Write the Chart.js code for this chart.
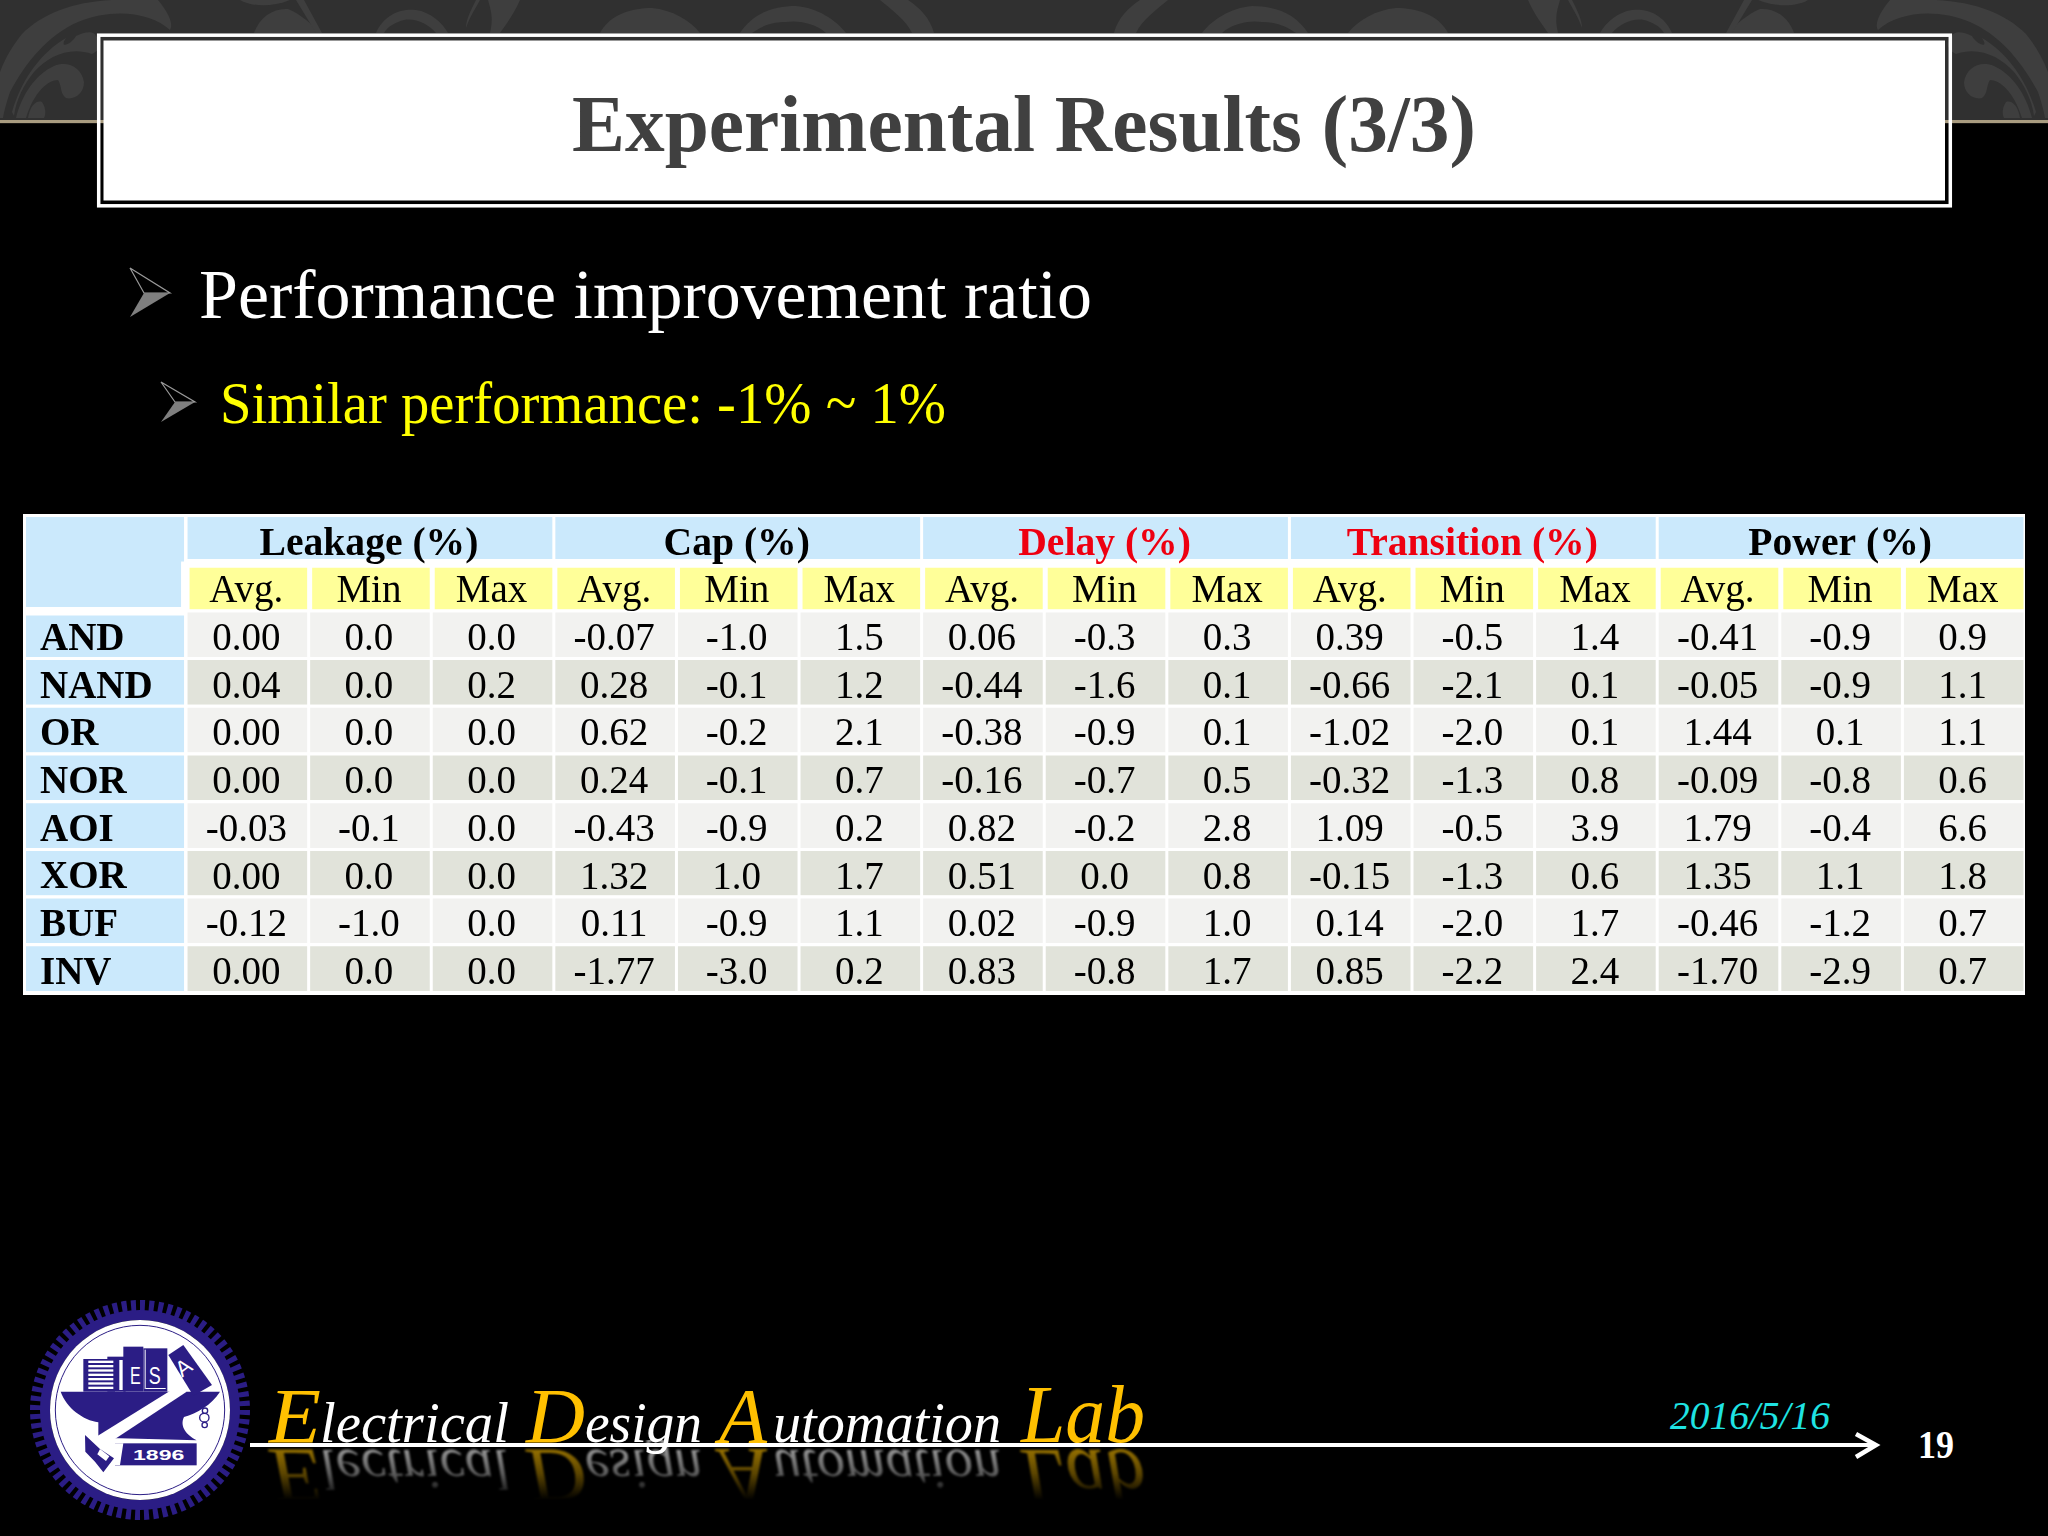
<!DOCTYPE html>
<html lang="en">
<head>
    <meta charset="UTF-8">
    <title>Experimental Results (3/3)</title>
    <script src="https://cdn.jsdelivr.net/npm/chart.js"></script>
    <style>
        body { margin: 0; background-color: #000; width: 2048px; height: 1536px; overflow: hidden; position: relative; }
        svg { position: absolute; left: 0; top: 0; }
        #tableChart { position: absolute; left: 23px; top: 514px; }
        text { font-family: "Liberation Serif", serif; }
    </style>
</head>
<body>

<svg width="2048" height="1536" viewBox="0 0 2048 1536">
    <defs>
        <g id="plume" fill="#3e3e3e">
            <path d="M26 0 L22 34 C42 14 72 2 112 0 L158 0 C168 12 174 24 170 30 C150 12 112 8 78 22 C48 35 26 62 10 92 C6 104 4 112 3 118 L0 118 L0 72 C6 56 14 44 22 34 Z"/>
            <path d="M12 112 C22 78 42 52 66 38 C58 50 72 44 76 36 C84 32 94 30 96 36 C104 44 100 50 92 54 C70 46 48 56 34 72 C24 84 16 100 14 116 Z"/>
            <path d="M16 118 C22 94 36 74 54 66 C68 60 82 68 84 82 C84 94 74 100 66 98 C60 94 62 86 58 80 C48 80 34 92 26 118 Z"/>
            <path d="M28 118 C30 106 36 100 42 102 C46 108 46 114 44 118 Z"/>
            <path d="M240 0 C250 6 270 8 290 0 Z"/>
            <path d="M254 33 C260 16 274 8 288 9 C300 14 312 24 320 33 Z"/>
            <path d="M296 0 L304 0 L322 33 L316 33 Z"/>
            <path d="M376 33 C384 14 402 8 416 10 C430 12 442 22 448 33 L436 33 C428 24 416 18 404 20 C396 22 388 26 384 33 Z"/>
            <path d="M466 28 C470 16 476 8 480 0 L476 0 C470 12 466 20 466 28 Z"/>
            <path d="M490 33 C494 16 490 8 488 0 L520 0 C514 14 506 24 500 33 Z"/>
            <path d="M600 33 C610 14 632 8 652 8 C672 10 690 20 700 33 Z"/>
            <path d="M740 33 C752 14 772 6 796 6 C818 8 836 20 846 33 L826 33 C816 24 800 20 786 22 C768 22 760 28 752 33 Z"/>
            <path d="M880 0 C892 10 906 20 912 33 L934 33 C930 18 920 8 908 0 Z"/>
        </g>
        <linearGradient id="fade" gradientUnits="userSpaceOnUse" x1="0" y1="1447" x2="0" y2="1500">
            <stop offset="0" stop-color="#fff" stop-opacity="0.6"/>
            <stop offset="0.5" stop-color="#fff" stop-opacity="0.36"/>
            <stop offset="1" stop-color="#fff" stop-opacity="0"/>
        </linearGradient>
        <mask id="fadeMask" maskUnits="userSpaceOnUse" x="250" y="1440" width="920" height="70">
            <rect x="250" y="1440" width="920" height="70" fill="url(#fade)"/>
        </mask>
        <filter id="soft"><feGaussianBlur stdDeviation="1"/></filter>
        <g id="wordmark" font-style="italic">
            <g fill="#ffc000" font-size="79">
                <text x="269" y="1442" textLength="52" lengthAdjust="spacingAndGlyphs">E</text>
                <text x="526" y="1442" textLength="59" lengthAdjust="spacingAndGlyphs">D</text>
                <text x="719" y="1442" textLength="48" lengthAdjust="spacingAndGlyphs">A</text>
                <text x="1021" y="1442" textLength="124" lengthAdjust="spacingAndGlyphs" font-size="82">Lab</text>
            </g>
            <g fill="#fff" font-size="58">
                <text x="320" y="1442" textLength="189" lengthAdjust="spacingAndGlyphs">lectrical</text>
                <text x="585" y="1442" textLength="117" lengthAdjust="spacingAndGlyphs">esign</text>
                <text x="773" y="1442" textLength="228" lengthAdjust="spacingAndGlyphs">utomation</text>
            </g>
        </g>
    </defs>

    <!-- top band -->
    <rect x="0" y="0" width="2048" height="120" fill="#303030"/>
    <use href="#plume"/>
    <use href="#plume" transform="translate(2048,0) scale(-1,1)"/>
    <rect x="0" y="120" width="2048" height="3.4" fill="#a99c80"/>
    <rect x="0" y="123.4" width="2048" height="90" fill="#000"/>

    <!-- title box -->
    <rect x="98.7" y="35.2" width="1851.6" height="170.6" fill="none" stroke="#fff" stroke-width="3.5"/>
    <rect x="103.5" y="40.5" width="1841.5" height="160" fill="#fff"/>
    <text x="572" y="151" font-size="80" font-weight="bold" fill="#404040" textLength="904" lengthAdjust="spacingAndGlyphs">Experimental Results (3/3)</text>

    <!-- bullets -->
    <polygon points="130,268 170,293 144,293" fill="#000" stroke="#9a9a9a" stroke-width="1.2"/>
    <polygon points="130,317 170,293 144,293" fill="#7f7f7f"/>
    <text x="199" y="318" font-size="70" fill="#fff" textLength="893" lengthAdjust="spacingAndGlyphs">Performance improvement ratio</text>
    <polygon points="161,382 195,402 175,402" fill="#000" stroke="#9a9a9a" stroke-width="1.2"/>
    <polygon points="161,422 195,402 175,402" fill="#7f7f7f"/>
    <text x="220" y="423" font-size="60" fill="#ffff00" textLength="726" lengthAdjust="spacingAndGlyphs">Similar performance: -1% ~ 1%</text>

    <!-- footer -->
    <use href="#wordmark"/>
    <g mask="url(#fadeMask)" filter="url(#soft)">
        <use href="#wordmark" transform="translate(0,2892) scale(1,-1)"/>
    </g>
    <rect x="250" y="1443" width="1626" height="4" fill="#fff"/>
    <polyline points="1856,1434 1876,1445 1856,1457" fill="none" stroke="#fff" stroke-width="4.5"/>
    <text x="1670" y="1429" font-size="39" font-style="italic" fill="#1fe3e3" textLength="160" lengthAdjust="spacingAndGlyphs">2016/5/16</text>
    <text x="1918" y="1458" font-size="39" font-weight="bold" fill="#fff" textLength="36" lengthAdjust="spacingAndGlyphs">19</text>

    <!-- logo, drawn in zoom coordinates -->
    <g transform="translate(20,1295) scale(0.33333)" fill="#2b1d85">
        <circle cx="360" cy="345" r="312" fill="none" stroke="#2b1d85" stroke-width="36" stroke-dasharray="15 12.2"/>
        <circle cx="360" cy="345" r="285" fill="none" stroke="#2b1d85" stroke-width="30"/>
        <circle cx="360" cy="345" r="270" fill="#fff"/>
        <circle cx="360" cy="345" r="254" fill="none" stroke="#2b1d85" stroke-width="3"/>
        <path d="M122 290 L600 290 C575 330 530 355 492 366 C478 395 500 420 530 436 L300 430 L235 430 L235 382 C190 375 140 340 122 290 Z"/>
        <rect x="285" y="445" width="245" height="66"/>
        <rect x="190" y="192" width="95" height="98"/>
        <rect x="262" y="185" width="55" height="105"/>
        <rect x="310" y="155" width="60" height="135"/>
        <rect x="370" y="160" width="72" height="130"/>
        <polygon points="445,180 490,150 576,270 520,302"/>
        <g fill="#fff">
            <rect x="205" y="197" width="75" height="7"/>
            <rect x="205" y="210" width="75" height="7"/>
            <rect x="205" y="223" width="75" height="7"/>
            <rect x="205" y="236" width="75" height="7"/>
            <rect x="205" y="249" width="75" height="7"/>
            <rect x="205" y="262" width="75" height="7"/>
            <rect x="205" y="275" width="75" height="7"/>
            <rect x="298" y="195" width="10" height="90"/>
            <rect x="374" y="164" width="3" height="118"/>
            <rect x="377" y="279" width="60" height="3"/>
            <polygon points="475,272 500,290 245,458 218,432"/>
            <polygon points="285,445 310,445 300,510 250,510"/>
        </g>
        <polygon points="195,420 240,462 282,490 250,532 225,500 196,470"/>
        <polygon points="240,462 268,484 258,498 232,478" fill="#fff"/>
        <polygon points="198,480 222,504 206,505" fill="#fff"/>
        <g fill="none" stroke="#2b1d85" stroke-width="4">
            <circle cx="555" cy="347" r="8"/>
            <ellipse cx="553" cy="368" rx="14" ry="13"/>
            <circle cx="554" cy="390" r="8"/>
        </g>
        <g fill="#fff">
            <text x="330" y="266" font-size="72" style="font-family:'Liberation Sans'" textLength="32" lengthAdjust="spacingAndGlyphs">E</text>
            <text x="386" y="266" font-size="72" style="font-family:'Liberation Sans'" textLength="36" lengthAdjust="spacingAndGlyphs">S</text>
            <text x="0" y="0" font-size="66" transform="translate(486,248) rotate(-36)" style="font-family:'Liberation Sans'">A</text>
            <text x="339" y="495" font-size="46" font-weight="bold" style="font-family:'Liberation Sans'" textLength="154" lengthAdjust="spacingAndGlyphs">1896</text>
        </g>
    </g>
</svg>

<canvas id="tableChart" width="2002" height="481"></canvas>

<script>
    const gateNames = ['AND', 'NAND', 'OR', 'NOR', 'AOI', 'XOR', 'BUF', 'INV'];
    const groupNames = ['Leakage (%)', 'Cap (%)', 'Delay (%)', 'Transition (%)', 'Power (%)'];
    const statNames = ['Avg.', 'Min', 'Max'];

    const leakageAvg = [0.00, 0.04, 0.00, 0.00, -0.03, 0.00, -0.12, 0.00];
    const leakageMin = [0.0, 0.0, 0.0, 0.0, -0.1, 0.0, -1.0, 0.0];
    const leakageMax = [0.0, 0.2, 0.0, 0.0, 0.0, 0.0, 0.0, 0.0];
    const capAvg = [-0.07, 0.28, 0.62, 0.24, -0.43, 1.32, 0.11, -1.77];
    const capMin = [-1.0, -0.1, -0.2, -0.1, -0.9, 1.0, -0.9, -3.0];
    const capMax = [1.5, 1.2, 2.1, 0.7, 0.2, 1.7, 1.1, 0.2];
    const delayAvg = [0.06, -0.44, -0.38, -0.16, 0.82, 0.51, 0.02, 0.83];
    const delayMin = [-0.3, -1.6, -0.9, -0.7, -0.2, 0.0, -0.9, -0.8];
    const delayMax = [0.3, 0.1, 0.1, 0.5, 2.8, 0.8, 1.0, 1.7];
    const transitionAvg = [0.39, -0.66, -1.02, -0.32, 1.09, -0.15, 0.14, 0.85];
    const transitionMin = [-0.5, -2.1, -2.0, -1.3, -0.5, -1.3, -2.0, -2.2];
    const transitionMax = [1.4, 0.1, 0.1, 0.8, 3.9, 0.6, 1.7, 2.4];
    const powerAvg = [-0.41, -0.05, 1.44, -0.09, 1.79, 1.35, -0.46, -1.70];
    const powerMin = [-0.9, -0.9, 0.1, -0.8, -0.4, 1.1, -1.2, -2.9];
    const powerMax = [0.9, 1.1, 1.1, 0.6, 6.6, 1.8, 0.7, 0.7];

    const columns = [
        leakageAvg, leakageMin, leakageMax,
        capAvg, capMin, capMax,
        delayAvg, delayMin, delayMax,
        transitionAvg, transitionMin, transitionMax,
        powerAvg, powerMin, powerMax
    ];

    const BLUE = '#cbe9fc';
    const YELLOW = '#ffff99';
    const ROW_LIGHT = '#f2f2f0';
    const ROW_DARK = '#e1e3da';
    const RED = '#ee0011';
    const labelColumns = 1.33; // first column width, in data column units

    // one band per row: group header, stat header, then the gates
    const rowLabels = ['', ''].concat(gateNames);

    function emptyRows() {
        return rowLabels.map(() => null);
    }

    function rowBorder(row) {
        if (row === 0) return { top: 3, bottom: 2.7, left: 1.5, right: 1.5 };
        if (row === 1) return { top: 6, bottom: 0, left: 3.5, right: 1.5 };
        return { top: 3, bottom: 0, left: 1.5, right: 1.5 };
    }

    const datasets = [];

    // first column
    datasets.push({
        data: rowLabels.map(() => [-labelColumns, 0]),
        backgroundColor: BLUE,
        borderWidth: ctx => {
            if (ctx.dataIndex === 0) return { top: 3, left: 3, right: 2, bottom: 0 };
            if (ctx.dataIndex === 1) return { top: 0, left: 3, right: 5, bottom: 2.4 };
            return { top: ctx.dataIndex === 2 ? 6 : 3, left: 3, right: 2, bottom: 0 };
        },
        cellTexts: [],
        textFont: '',
        textColor: []
    });

    // group headers
    groupNames.forEach((name, g) => {
        const data = emptyRows();
        data[0] = [g * 3, g * 3 + 3];
        datasets.push({
            data: data,
            backgroundColor: BLUE,
            borderWidth: ctx => rowBorder(ctx.dataIndex),
            cellTexts: [name],
            textFont: 'bold 40px "Liberation Serif"',
            textScale: 0.99,
            textColor: name.startsWith('Delay') || name.startsWith('Transition') ? RED : '#000'
        });
    });

    // stat header and values, one dataset per column
    columns.forEach((values, c) => {
        const data = emptyRows();
        const texts = [null, statNames[c % 3]];
        rowLabels.forEach((_, r) => {
            if (r > 0) data[r] = [c, c + 1];
        });
        values.forEach(v => texts.push(v.toFixed(c % 3 === 0 ? 2 : 1)));
        datasets.push({
            data: data,
            backgroundColor: rowLabels.map((_, r) => r === 1 ? YELLOW : (r % 2 === 0 ? ROW_LIGHT : ROW_DARK)),
            borderWidth: ctx => rowBorder(ctx.dataIndex),
            cellTexts: texts,
            textFont: '40px "Liberation Serif"',
            textScale: 0.975,
            textColor: '#000'
        });
    });

    datasets.forEach(d => {
        d.grouped = false;
        d.barPercentage = 1;
        d.categoryPercentage = 1;
        d.borderColor = '#fff';
        d.borderSkipped = false;
        d.inflateAmount = 0;
    });

    const whiteBackground = {
        id: 'whiteBackground',
        beforeDraw(chart) {
            const ctx = chart.ctx;
            ctx.save();
            ctx.fillStyle = '#fff';
            ctx.fillRect(0, 0, chart.width, chart.height);
            ctx.restore();
        }
    };

    const cellText = {
        id: 'cellText',
        afterDatasetsDraw(chart) {
            const ctx = chart.ctx;
            ctx.save();

            // the empty corner is one block, hide the seam between its two bands
            const seam = chart.scales.y.getPixelForValue(0.5);
            const cornerRight = chart.scales.x.getPixelForValue(0);
            ctx.fillStyle = BLUE;
            ctx.fillRect(3, seam - 1.5, cornerRight - 8, 3);

            ctx.textAlign = 'center';
            ctx.textBaseline = 'alphabetic';
            chart.data.datasets.forEach((d, i) => {
                chart.getDatasetMeta(i).data.forEach((bar, r) => {
                    const text = d.cellTexts[r];
                    if (!text) return;
                    ctx.save();
                    ctx.translate((bar.x + bar.base) / 2 - 1, bar.y + 16.8);
                    ctx.scale(d.textScale, 1);
                    ctx.font = d.textFont;
                    ctx.fillStyle = d.textColor;
                    ctx.fillText(text, 0, 0);
                    ctx.restore();
                });
            });
            ctx.restore();
        }
    };

    new Chart(document.getElementById('tableChart'), {
        type: 'bar',
        data: { labels: rowLabels, datasets: datasets },
        plugins: [whiteBackground, cellText],
        options: {
            indexAxis: 'y',
            responsive: false,
            animation: false,
            devicePixelRatio: 1,
            layout: { padding: { bottom: 4 } },
            plugins: { legend: { display: false }, tooltip: { enabled: false } },
            scales: {
                x: { type: 'linear', display: false, min: -labelColumns, max: columns.length },
                y: {
                    type: 'category',
                    border: { display: false },
                    grid: { display: false, drawTicks: false },
                    afterFit(scale) {
                        // labels sit inside the first column
                        scale.width = 0;
                        scale.paddingTop = 0;
                        scale.paddingBottom = 0;
                    },
                    ticks: {
                        z: 1,
                        mirror: true,
                        padding: 17,
                        autoSkip: false,
                        labelOffset: 6.5,
                        color: '#000',
                        font: { family: 'Liberation Serif', weight: 'bold', size: 39 }
                    }
                }
            }
        }
    });
</script>

</body>
</html>
